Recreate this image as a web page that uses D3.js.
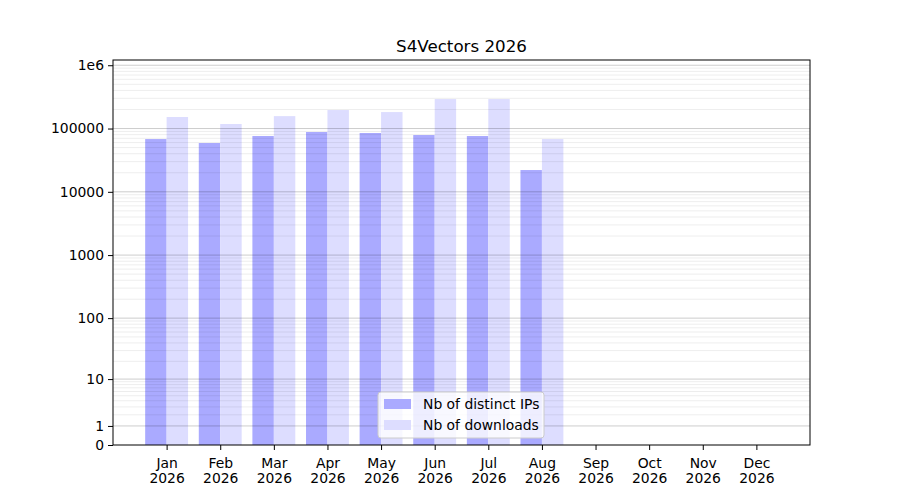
<!DOCTYPE html>
<html>
<head>
<meta charset="utf-8">
<script src="https://cdn.jsdelivr.net/npm/d3@7"></script>
<style>
  body { margin: 0; background: #fff; }
  text { font-family: "DejaVu Sans", sans-serif; fill: #000; }
</style>
</head>
<body>
<svg id="chart" width="900" height="500"></svg>
<script>
var months = ['Jan', 'Feb', 'Mar', 'Apr', 'May', 'Jun', 'Jul', 'Aug', 'Sep', 'Oct', 'Nov', 'Dec'];
var year = '2026';
var distinctIPs = [68200, 59000, 76200, 88100, 85000, 78900, 76200, 22100];
var downloads = [152000, 118000, 157000, 196000, 182000, 292000, 292000, 68200];
var yTicks = [0, 1, 10, 100, 1000, 10000, 100000, 1000000];
var yTickLabels = ['0', '1', '10', '100', '1000', '10000', '100000', '1e6'];

var svg = d3.select('#chart');
var margin = {top: 60, right: 90, bottom: 55, left: 113};
var width = 900 - margin.left - margin.right,
    height = 500 - margin.top - margin.bottom;

var g = svg.append('g')
    .attr('transform', 'translate(' + margin.left + ',' + margin.top + ')');

// x: months at 1..12, domain 0..13
var x = d3.scaleLinear().domain([0, 13]).range([0, width]);
var y = d3.scaleSymlog().constant(1).domain([0, 1210000]).range([height, 0]);
var barW = x(0.4) - x(0);

// bars
g.selectAll('.ip')
    .data(distinctIPs)
    .enter()
    .append('rect')
    .attr('x', function(d, i) { return x(i + 1) - barW; })
    .attr('y', function(d) { return y(d); })
    .attr('width', barW)
    .attr('height', function(d) { return y(0) - y(d); })
    .style('fill', '#aaaaff');

g.selectAll('.dl')
    .data(downloads)
    .enter()
    .append('rect')
    .attr('x', function(d, i) { return x(i + 1); })
    .attr('y', function(d) { return y(d); })
    .attr('width', barW)
    .attr('height', function(d) { return y(0) - y(d); })
    .style('fill', '#ddddff');

// minor grid (2..9 x each decade)
var minor = [];
for (var e = 0; e < 6; e++) {
    for (var m = 2; m < 10; m++) minor.push(m * Math.pow(10, e));
}
g.selectAll('.minor')
    .data(minor)
    .enter()
    .append('line')
    .attr('x1', 0).attr('x2', width)
    .attr('y1', function(d) { return y(d); })
    .attr('y2', function(d) { return y(d); })
    .style('stroke', '#000')
    .style('stroke-opacity', 0.07)
    .style('stroke-width', 1);

// major grid
g.selectAll('.major')
    .data(yTicks.slice(1))
    .enter()
    .append('line')
    .attr('x1', 0).attr('x2', width)
    .attr('y1', function(d) { return y(d); })
    .attr('y2', function(d) { return y(d); })
    .style('stroke', '#000')
    .style('stroke-opacity', 0.2)
    .style('stroke-width', 1);

// frame
g.append('rect')
    .attr('width', width).attr('height', height)
    .style('fill', 'none').style('stroke', '#000').style('stroke-width', 1);

// y axis
var yAxis = g.append('g')
    .call(d3.axisLeft(y).tickValues(yTicks)
        .tickFormat(function(d, i) { return yTickLabels[i]; })
        .tickSize(5).tickPadding(4));
yAxis.select('.domain').remove();
yAxis.selectAll('text').style('font-size', '13.9px').style('font-family', 'DejaVu Sans');

// x axis
var xAxis = g.append('g')
    .attr('transform', 'translate(0,' + height + ')')
    .call(d3.axisBottom(x).tickValues(d3.range(1, 13)).tickFormat('').tickSize(5));
xAxis.select('.domain').remove();
xAxis.selectAll('.tick').each(function(d) {
    var t = d3.select(this).append('text')
        .attr('text-anchor', 'middle')
        .style('font-size', '13.9px')
        .style('font-family', 'DejaVu Sans');
    t.append('tspan').attr('x', 0).attr('y', 23).text(months[d - 1]);
    t.append('tspan').attr('x', 0).attr('y', 38).text(year);
});

// title
svg.append('text')
    .attr('x', margin.left + width / 2)
    .attr('y', 52)
    .attr('text-anchor', 'middle')
    .style('font-size', '16.7px')
    .text('S4Vectors 2026');

// legend
var lg = svg.append('g').attr('transform', 'translate(378,392)');
lg.append('rect')
    .attr('width', 166).attr('height', 46).attr('rx', 3)
    .style('fill', '#fff').style('fill-opacity', 0.8)
    .style('stroke', '#cccccc').style('stroke-width', 1);
var legendItems = ['Nb of distinct IPs', 'Nb of downloads'];
var legendColors = ['#aaaaff', '#ddddff'];
legendItems.forEach(function(s, i) {
    lg.append('rect')
        .attr('x', 6).attr('y', 7 + i * 21)
        .attr('width', 27).attr('height', 10)
        .style('fill', legendColors[i]);
    lg.append('text')
        .attr('x', 45).attr('y', 17 + i * 21)
        .style('font-size', '13.9px')
        .text(s);
});
</script>
</body>
</html>
